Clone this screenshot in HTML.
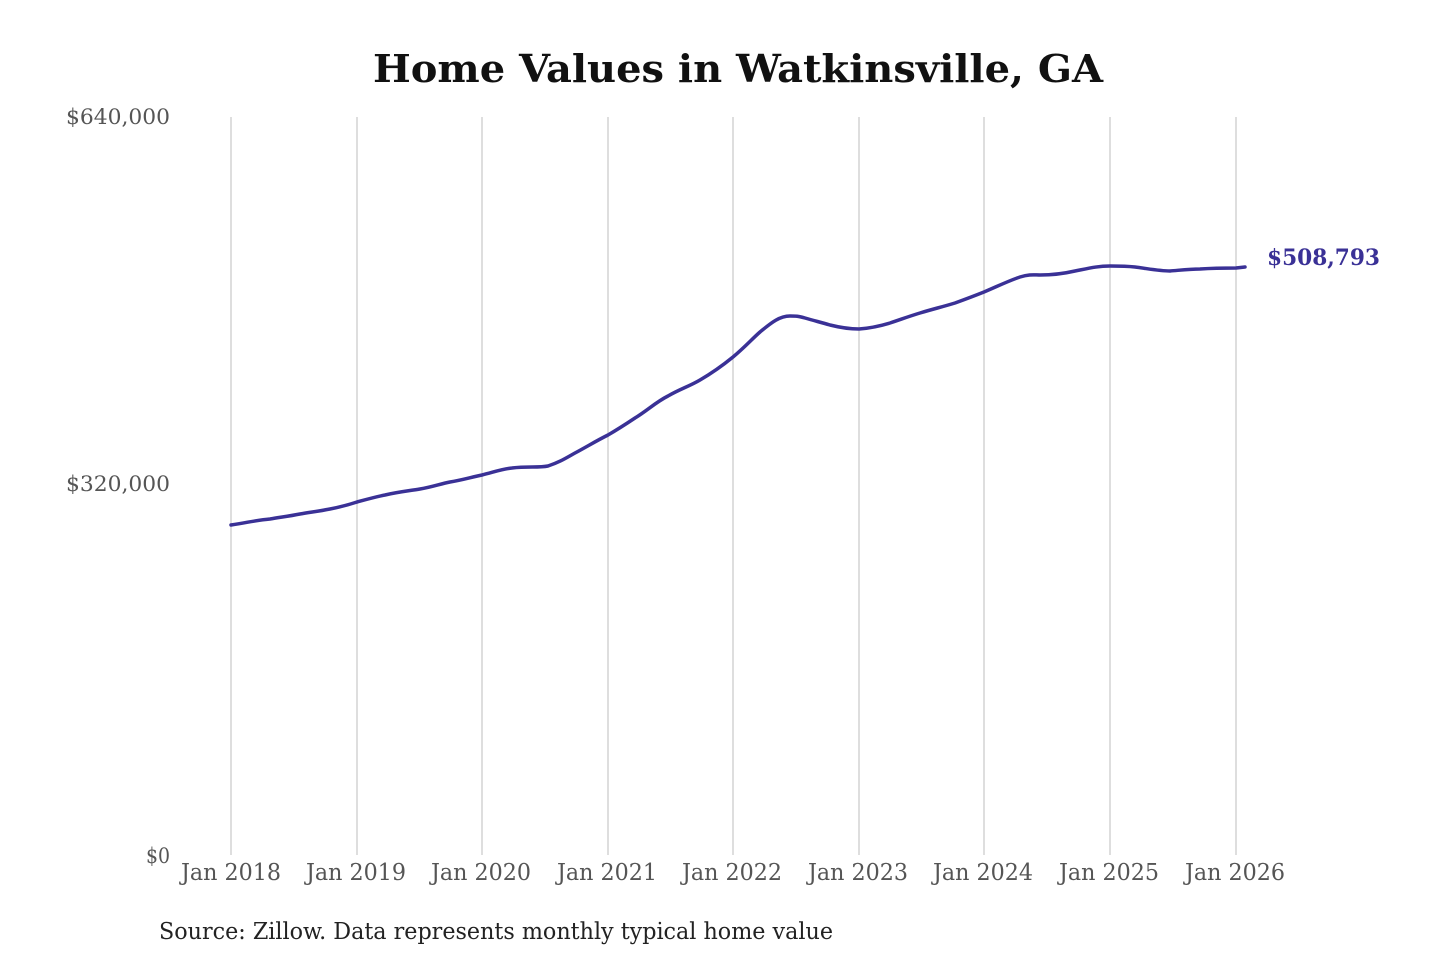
<!DOCTYPE html>
<html><head><meta charset="utf-8"><style>
html,body{margin:0;padding:0;background:#fff;width:1440px;height:960px;overflow:hidden}
text{font-family:"DejaVu Serif Condensed","DejaVu Serif","Liberation Serif",serif}
</style></head><body>
<svg width="1440" height="960" viewBox="0 0 1440 960" xmlns="http://www.w3.org/2000/svg">
<text x="738" y="82" text-anchor="middle" font-size="38" font-weight="bold" fill="#111" textLength="730" lengthAdjust="spacingAndGlyphs">Home Values in Watkinsville, GA</text>
<g stroke="#c8c8c8" stroke-width="1.2">
<line x1="231" y1="117" x2="231" y2="855"/><line x1="357" y1="117" x2="357" y2="855"/>
<line x1="482" y1="117" x2="482" y2="855"/><line x1="608" y1="117" x2="608" y2="855"/>
<line x1="733" y1="117" x2="733" y2="855"/><line x1="859" y1="117" x2="859" y2="855"/>
<line x1="984" y1="117" x2="984" y2="855"/><line x1="1110" y1="117" x2="1110" y2="855"/>
<line x1="1236" y1="117" x2="1236" y2="855"/>
</g>
<g font-size="21" fill="#555">
<text x="170" y="124" text-anchor="end" textLength="104" lengthAdjust="spacingAndGlyphs">$640,000</text>
<text x="170" y="491" text-anchor="end" textLength="104" lengthAdjust="spacingAndGlyphs">$320,000</text>
<text x="170" y="863" text-anchor="end">$0</text>
</g>
<g font-size="23" fill="#555" text-anchor="middle">
<text x="231" y="880" textLength="100" lengthAdjust="spacingAndGlyphs">Jan 2018</text>
<text x="356" y="880" textLength="100" lengthAdjust="spacingAndGlyphs">Jan 2019</text>
<text x="481" y="880" textLength="100" lengthAdjust="spacingAndGlyphs">Jan 2020</text>
<text x="607" y="880" textLength="100" lengthAdjust="spacingAndGlyphs">Jan 2021</text>
<text x="732" y="880" textLength="100" lengthAdjust="spacingAndGlyphs">Jan 2022</text>
<text x="858" y="880" textLength="100" lengthAdjust="spacingAndGlyphs">Jan 2023</text>
<text x="983" y="880" textLength="100" lengthAdjust="spacingAndGlyphs">Jan 2024</text>
<text x="1109" y="880" textLength="100" lengthAdjust="spacingAndGlyphs">Jan 2025</text>
<text x="1235" y="880" textLength="100" lengthAdjust="spacingAndGlyphs">Jan 2026</text>
</g>
<text x="159" y="939" font-size="23" fill="#222" textLength="674" lengthAdjust="spacingAndGlyphs">Source: Zillow. Data represents monthly typical home value</text>
<path fill="none" stroke="#3a3196" stroke-width="3.5" stroke-linejoin="round" stroke-linecap="round"
d="M231,525 C250,522 258,520 270,519 C282,517 290,516 300,514 C312,512 320,511 330,509 C340,507 348,505 357,502 C368,499 375,497 385,495 C398,492 408,491 420,489 C432,487 440,484 450,482 C462,480 472,477 482,475 C494,472 502,469 512,468 C528,466 538,468 548,466 C560,462 566,458 575,453 C588,446 596,441 608,435 C620,428 626,424 635,418 C648,410 656,402 668,396 C680,389 690,386 700,380 C712,373 722,366 733,357 C745,347 752,339 760,332 C772,322 780,316 790,316 C796,316 798,316 805,318 C815,321 820,322 830,325 C842,328 850,329 859,329 C872,328 880,326 890,323 C902,319 910,316 920,313 C933,309 942,307 955,303 C966,299 974,296 984,292 C996,287 1008,281 1020,277 C1030,274 1034,275 1040,275 C1052,275 1062,274 1075,271 C1090,268 1098,266 1110,266 C1122,266 1126,266 1135,267 C1150,269 1160,271 1170,271 C1182,270 1190,269 1200,269 C1215,268 1225,268 1236,268 L1245,267"/>
<text x="1267" y="265" font-size="22" font-weight="bold" fill="#3a3196" textLength="113" lengthAdjust="spacingAndGlyphs">$508,793</text>
</svg>
</body></html>
